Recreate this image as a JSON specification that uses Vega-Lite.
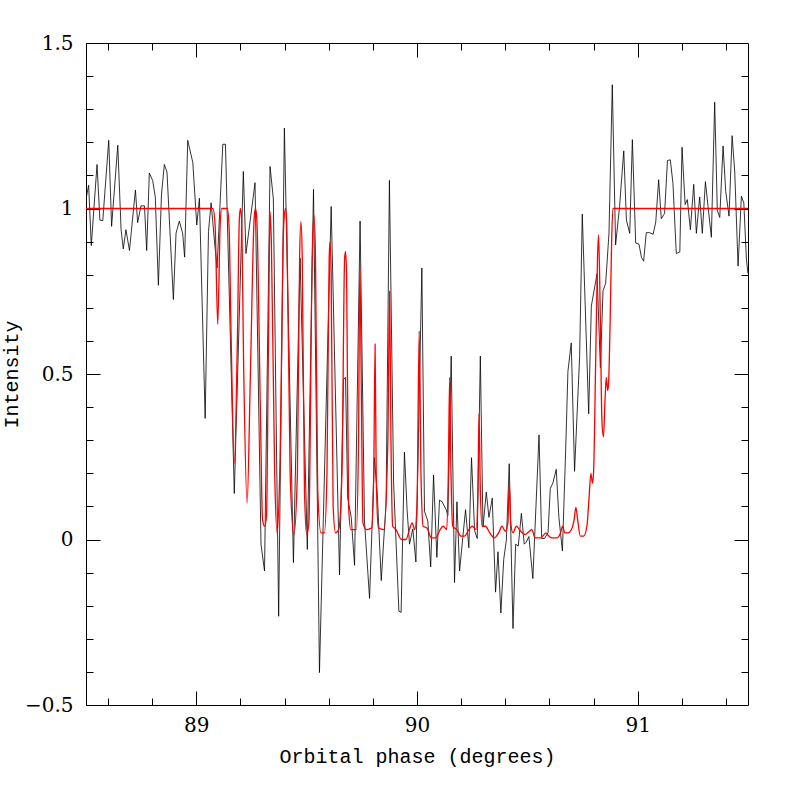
{
  "$schema": "https://vega.github.io/schema/vega-lite/v6.json",
  "width": 662,
  "height": 662,
  "autosize": "none",
  "padding": {"left": 86, "top": 43, "right": 41, "bottom": 84},
  "background": "white",
  "config": {
    "view": {"stroke": "black", "strokeWidth": 1},
    "axis": {
      "domain": false,
      "grid": false,
      "tickColor": "black",
      "tickWidth": 1,
      "labelFont": "DejaVu Serif",
      "labelFontSize": 20,
      "labelColor": "black",
      "titleFont": "Liberation Mono",
      "titleFontSize": 20,
      "titleFontWeight": "normal",
      "titleColor": "black"
    }
  },
  "datasets": {
    "obs": [
      {"phase": 88.500, "intensity": 1.029}, {"phase": 88.512, "intensity": 1.070}, {"phase": 88.524, "intensity": 0.888},
      {"phase": 88.550, "intensity": 1.133}, {"phase": 88.563, "intensity": 0.965}, {"phase": 88.576, "intensity": 0.963},
      {"phase": 88.603, "intensity": 1.206}, {"phase": 88.616, "intensity": 0.946}, {"phase": 88.644, "intensity": 1.191},
      {"phase": 88.659, "intensity": 0.936}, {"phase": 88.669, "intensity": 0.878}, {"phase": 88.681, "intensity": 0.936},
      {"phase": 88.697, "intensity": 0.873}, {"phase": 88.724, "intensity": 1.056}, {"phase": 88.734, "intensity": 0.957},
      {"phase": 88.749, "intensity": 1.008}, {"phase": 88.765, "intensity": 1.008}, {"phase": 88.775, "intensity": 0.873},
      {"phase": 88.787, "intensity": 1.107}, {"phase": 88.802, "intensity": 1.085}, {"phase": 88.814, "intensity": 1.035},
      {"phase": 88.828, "intensity": 0.768}, {"phase": 88.842, "intensity": 1.041}, {"phase": 88.855, "intensity": 1.133},
      {"phase": 88.867, "intensity": 1.110}, {"phase": 88.896, "intensity": 0.725}, {"phase": 88.908, "intensity": 0.925},
      {"phase": 88.923, "intensity": 0.962}, {"phase": 88.938, "intensity": 0.925}, {"phase": 88.947, "intensity": 0.853},
      {"phase": 88.961, "intensity": 1.206}, {"phase": 88.984, "intensity": 1.139}, {"phase": 89.002, "intensity": 0.950},
      {"phase": 89.014, "intensity": 1.031}, {"phase": 89.040, "intensity": 0.366}, {"phase": 89.055, "intensity": 0.930},
      {"phase": 89.067, "intensity": 1.017}, {"phase": 89.082, "intensity": 0.902}, {"phase": 89.094, "intensity": 0.820},
      {"phase": 89.120, "intensity": 1.194}, {"phase": 89.132, "intensity": 1.194}, {"phase": 89.172, "intensity": 0.139},
      {"phase": 89.213, "intensity": 1.112}, {"phase": 89.225, "intensity": 0.864}, {"phase": 89.266, "intensity": 1.078},
      {"phase": 89.293, "intensity": -0.014}, {"phase": 89.309, "intensity": -0.095}, {"phase": 89.334, "intensity": 1.127},
      {"phase": 89.349, "intensity": 1.029}, {"phase": 89.373, "intensity": -0.232}, {"phase": 89.399, "intensity": 1.243},
      {"phase": 89.440, "intensity": -0.070}, {"phase": 89.470, "intensity": 0.850}, {"phase": 89.503, "intensity": -0.030},
      {"phase": 89.531, "intensity": 1.058}, {"phase": 89.558, "intensity": -0.402}, {"phase": 89.611, "intensity": 1.006},
      {"phase": 89.649, "intensity": -0.107}, {"phase": 89.667, "intensity": 0.484}, {"phase": 89.676, "intensity": 0.490},
      {"phase": 89.686, "intensity": 0.125}, {"phase": 89.702, "intensity": 0.067}, {"phase": 89.717, "intensity": -0.078},
      {"phase": 89.742, "intensity": 0.962}, {"phase": 89.762, "intensity": 0.056}, {"phase": 89.785, "intensity": -0.178},
      {"phase": 89.807, "intensity": 0.247}, {"phase": 89.820, "intensity": 0.137}, {"phase": 89.838, "intensity": -0.124},
      {"phase": 89.860, "intensity": 0.114}, {"phase": 89.875, "intensity": 1.085}, {"phase": 89.894, "intensity": 0.171},
      {"phase": 89.918, "intensity": -0.217}, {"phase": 89.928, "intensity": -0.220}, {"phase": 89.943, "intensity": 0.264},
      {"phase": 89.955, "intensity": 0.090}, {"phase": 89.966, "intensity": -0.014}, {"phase": 89.981, "intensity": 0.032},
      {"phase": 89.995, "intensity": -0.068}, {"phase": 90.022, "intensity": 0.820}, {"phase": 90.034, "intensity": 0.085},
      {"phase": 90.049, "intensity": 0.056}, {"phase": 90.062, "intensity": -0.083}, {"phase": 90.075, "intensity": 0.195},
      {"phase": 90.090, "intensity": -0.054}, {"phase": 90.102, "intensity": 0.119}, {"phase": 90.114, "intensity": 0.114},
      {"phase": 90.132, "intensity": 0.090}, {"phase": 90.140, "intensity": 0.073}, {"phase": 90.155, "intensity": 0.554},
      {"phase": 90.170, "intensity": -0.130}, {"phase": 90.181, "intensity": 0.114}, {"phase": 90.193, "intensity": -0.095},
      {"phase": 90.208, "intensity": 0.009}, {"phase": 90.220, "intensity": 0.090}, {"phase": 90.235, "intensity": -0.025},
      {"phase": 90.247, "intensity": 0.247}, {"phase": 90.261, "intensity": 0.027}, {"phase": 90.273, "intensity": 0.003},
      {"phase": 90.287, "intensity": 0.554}, {"phase": 90.299, "intensity": 0.038}, {"phase": 90.314, "intensity": 0.143},
      {"phase": 90.326, "intensity": 0.067}, {"phase": 90.341, "intensity": 0.125}, {"phase": 90.356, "intensity": -0.159},
      {"phase": 90.367, "intensity": -0.037}, {"phase": 90.380, "intensity": -0.222}, {"phase": 90.393, "intensity": -0.060},
      {"phase": 90.405, "intensity": -0.002}, {"phase": 90.418, "intensity": 0.229}, {"phase": 90.435, "intensity": -0.269},
      {"phase": 90.447, "intensity": -0.014}, {"phase": 90.459, "intensity": -0.020}, {"phase": 90.473, "intensity": 0.079},
      {"phase": 90.486, "intensity": -0.014}, {"phase": 90.495, "intensity": -0.008}, {"phase": 90.507, "intensity": 0.009},
      {"phase": 90.525, "intensity": -0.118}, {"phase": 90.553, "intensity": 0.316}, {"phase": 90.565, "intensity": 0.003},
      {"phase": 90.578, "intensity": 0.003}, {"phase": 90.594, "intensity": 0.021}, {"phase": 90.604, "intensity": 0.154},
      {"phase": 90.616, "intensity": 0.171}, {"phase": 90.631, "intensity": 0.212}, {"phase": 90.643, "intensity": 0.067},
      {"phase": 90.659, "intensity": -0.035}, {"phase": 90.674, "intensity": 0.276}, {"phase": 90.684, "intensity": 0.508},
      {"phase": 90.699, "intensity": 0.594}, {"phase": 90.714, "intensity": 0.206}, {"phase": 90.737, "intensity": 0.553},
      {"phase": 90.749, "intensity": 0.983}, {"phase": 90.778, "intensity": 0.380}, {"phase": 90.790, "intensity": 0.705},
      {"phase": 90.816, "intensity": 0.803}, {"phase": 90.831, "intensity": 0.519}, {"phase": 90.843, "intensity": 0.751},
      {"phase": 90.855, "intensity": 0.774}, {"phase": 90.870, "intensity": 0.925}, {"phase": 90.885, "intensity": 1.374},
      {"phase": 90.900, "intensity": 0.890}, {"phase": 90.918, "intensity": 1.006}, {"phase": 90.937, "intensity": 1.174},
      {"phase": 90.949, "intensity": 0.965}, {"phase": 90.964, "intensity": 0.925}, {"phase": 90.976, "intensity": 1.208},
      {"phase": 90.991, "intensity": 0.896}, {"phase": 91.006, "intensity": 0.892}, {"phase": 91.017, "intensity": 0.853},
      {"phase": 91.027, "intensity": 0.841}, {"phase": 91.039, "intensity": 0.927}, {"phase": 91.054, "intensity": 0.927},
      {"phase": 91.070, "intensity": 0.922}, {"phase": 91.082, "intensity": 0.959}, {"phase": 91.095, "intensity": 1.087},
      {"phase": 91.107, "intensity": 0.969}, {"phase": 91.122, "intensity": 0.985}, {"phase": 91.135, "intensity": 1.145},
      {"phase": 91.148, "intensity": 1.147}, {"phase": 91.160, "intensity": 1.075}, {"phase": 91.175, "intensity": 0.864},
      {"phase": 91.191, "intensity": 0.869}, {"phase": 91.201, "intensity": 1.185}, {"phase": 91.215, "intensity": 1.012},
      {"phase": 91.225, "intensity": 1.027}, {"phase": 91.239, "intensity": 0.936}, {"phase": 91.254, "intensity": 1.073},
      {"phase": 91.266, "intensity": 0.925}, {"phase": 91.281, "intensity": 1.035}, {"phase": 91.293, "intensity": 0.925},
      {"phase": 91.307, "intensity": 1.081}, {"phase": 91.319, "intensity": 1.006}, {"phase": 91.334, "intensity": 0.913},
      {"phase": 91.349, "intensity": 1.321}, {"phase": 91.361, "intensity": 0.994}, {"phase": 91.372, "intensity": 0.973},
      {"phase": 91.387, "intensity": 1.189}, {"phase": 91.399, "intensity": 1.052}, {"phase": 91.414, "intensity": 0.977},
      {"phase": 91.428, "intensity": 1.220}, {"phase": 91.440, "intensity": 1.110}, {"phase": 91.455, "intensity": 0.826},
      {"phase": 91.470, "intensity": 1.037}, {"phase": 91.481, "intensity": 1.017}, {"phase": 91.493, "intensity": 0.844},
      {"phase": 91.500, "intensity": 0.803}
    ],
    "model": [
      {"phase": 88.500, "intensity": 1.0}, {"phase": 89.075, "intensity": 1.0}, {"phase": 89.085, "intensity": 0.95},
      {"phase": 89.097, "intensity": 0.65}, {"phase": 89.108, "intensity": 0.95}, {"phase": 89.115, "intensity": 1.0},
      {"phase": 89.140, "intensity": 1.0}, {"phase": 89.148, "intensity": 0.95}, {"phase": 89.158, "intensity": 0.6},
      {"phase": 89.172, "intensity": 0.23}, {"phase": 89.186, "intensity": 0.6}, {"phase": 89.195, "intensity": 0.97},
      {"phase": 89.200, "intensity": 1.0}, {"phase": 89.205, "intensity": 0.97}, {"phase": 89.215, "intensity": 0.5},
      {"phase": 89.230, "intensity": 0.11}, {"phase": 89.245, "intensity": 0.5}, {"phase": 89.262, "intensity": 0.97},
      {"phase": 89.268, "intensity": 1.0}, {"phase": 89.274, "intensity": 0.97}, {"phase": 89.290, "intensity": 0.4},
      {"phase": 89.300, "intensity": 0.06}, {"phase": 89.309, "intensity": 0.04}, {"phase": 89.318, "intensity": 0.07},
      {"phase": 89.327, "intensity": 0.6}, {"phase": 89.334, "intensity": 0.99}, {"phase": 89.340, "intensity": 0.9},
      {"phase": 89.355, "intensity": 0.2}, {"phase": 89.366, "intensity": 0.02}, {"phase": 89.378, "intensity": 0.2},
      {"phase": 89.396, "intensity": 0.95}, {"phase": 89.404, "intensity": 1.0}, {"phase": 89.410, "intensity": 0.95},
      {"phase": 89.425, "intensity": 0.2}, {"phase": 89.442, "intensity": 0.015}, {"phase": 89.458, "intensity": 0.2},
      {"phase": 89.468, "intensity": 0.85}, {"phase": 89.474, "intensity": 0.96}, {"phase": 89.480, "intensity": 0.85},
      {"phase": 89.490, "intensity": 0.15}, {"phase": 89.500, "intensity": 0.015}, {"phase": 89.510, "intensity": 0.05},
      {"phase": 89.525, "intensity": 0.85}, {"phase": 89.533, "intensity": 0.98}, {"phase": 89.540, "intensity": 0.85},
      {"phase": 89.550, "intensity": 0.15}, {"phase": 89.565, "intensity": 0.02}, {"phase": 89.580, "intensity": 0.02},
      {"phase": 89.592, "intensity": 0.2}, {"phase": 89.602, "intensity": 0.85}, {"phase": 89.606, "intensity": 0.90},
      {"phase": 89.611, "intensity": 0.8}, {"phase": 89.620, "intensity": 0.1}, {"phase": 89.631, "intensity": 0.02},
      {"phase": 89.645, "intensity": 0.03}, {"phase": 89.660, "intensity": 0.2}, {"phase": 89.672, "intensity": 0.85},
      {"phase": 89.676, "intensity": 0.87}, {"phase": 89.681, "intensity": 0.8}, {"phase": 89.690, "intensity": 0.1},
      {"phase": 89.700, "intensity": 0.03}, {"phase": 89.725, "intensity": 0.03}, {"phase": 89.735, "intensity": 0.3},
      {"phase": 89.741, "intensity": 0.83}, {"phase": 89.747, "intensity": 0.5}, {"phase": 89.755, "intensity": 0.05},
      {"phase": 89.770, "intensity": 0.03}, {"phase": 89.795, "intensity": 0.035}, {"phase": 89.804, "intensity": 0.2},
      {"phase": 89.810, "intensity": 0.59}, {"phase": 89.815, "intensity": 0.2}, {"phase": 89.825, "intensity": 0.035},
      {"phase": 89.850, "intensity": 0.03}, {"phase": 89.868, "intensity": 0.3}, {"phase": 89.876, "intensity": 0.75},
      {"phase": 89.882, "intensity": 0.3}, {"phase": 89.890, "intensity": 0.04}, {"phase": 89.905, "intensity": 0.03},
      {"phase": 89.930, "intensity": 0.0}, {"phase": 89.950, "intensity": 0.0}, {"phase": 89.968, "intensity": 0.035},
      {"phase": 89.978, "intensity": 0.05}, {"phase": 89.990, "intensity": 0.03}, {"phase": 90.000, "intensity": 0.1},
      {"phase": 90.010, "intensity": 0.63}, {"phase": 90.018, "intensity": 0.2}, {"phase": 90.028, "intensity": 0.04},
      {"phase": 90.045, "intensity": 0.035}, {"phase": 90.065, "intensity": 0.005}, {"phase": 90.085, "intensity": 0.005},
      {"phase": 90.105, "intensity": 0.03}, {"phase": 90.118, "intensity": 0.04}, {"phase": 90.135, "intensity": 0.03},
      {"phase": 90.142, "intensity": 0.2}, {"phase": 90.148, "intensity": 0.49}, {"phase": 90.154, "intensity": 0.2},
      {"phase": 90.162, "intensity": 0.04}, {"phase": 90.180, "intensity": 0.03}, {"phase": 90.200, "intensity": 0.01},
      {"phase": 90.215, "intensity": 0.01}, {"phase": 90.235, "intensity": 0.03}, {"phase": 90.250, "intensity": 0.04},
      {"phase": 90.268, "intensity": 0.03}, {"phase": 90.276, "intensity": 0.15}, {"phase": 90.281, "intensity": 0.38},
      {"phase": 90.287, "intensity": 0.15}, {"phase": 90.295, "intensity": 0.04}, {"phase": 90.310, "intensity": 0.04},
      {"phase": 90.330, "intensity": 0.02}, {"phase": 90.350, "intensity": 0.005}, {"phase": 90.370, "intensity": 0.02},
      {"phase": 90.385, "intensity": 0.04}, {"phase": 90.400, "intensity": 0.025}, {"phase": 90.412, "intensity": 0.05},
      {"phase": 90.418, "intensity": 0.17}, {"phase": 90.425, "intensity": 0.05}, {"phase": 90.435, "intensity": 0.02},
      {"phase": 90.450, "intensity": 0.04}, {"phase": 90.470, "intensity": 0.025}, {"phase": 90.490, "intensity": 0.015},
      {"phase": 90.510, "intensity": 0.025}, {"phase": 90.520, "intensity": 0.03}, {"phase": 90.535, "intensity": 0.005},
      {"phase": 90.560, "intensity": 0.005}, {"phase": 90.585, "intensity": 0.02}, {"phase": 90.595, "intensity": 0.012},
      {"phase": 90.610, "intensity": 0.005}, {"phase": 90.635, "intensity": 0.005}, {"phase": 90.650, "intensity": 0.02},
      {"phase": 90.660, "intensity": 0.04}, {"phase": 90.670, "intensity": 0.02}, {"phase": 90.685, "intensity": 0.02},
      {"phase": 90.700, "intensity": 0.03}, {"phase": 90.712, "intensity": 0.06}, {"phase": 90.720, "intensity": 0.097},
      {"phase": 90.728, "intensity": 0.06}, {"phase": 90.740, "intensity": 0.01}, {"phase": 90.755, "intensity": 0.01},
      {"phase": 90.770, "intensity": 0.04}, {"phase": 90.780, "intensity": 0.13}, {"phase": 90.788, "intensity": 0.2},
      {"phase": 90.795, "intensity": 0.17}, {"phase": 90.800, "intensity": 0.2}, {"phase": 90.810, "intensity": 0.55},
      {"phase": 90.818, "intensity": 0.85}, {"phase": 90.823, "intensity": 0.92}, {"phase": 90.830, "intensity": 0.7},
      {"phase": 90.838, "intensity": 0.36}, {"phase": 90.845, "intensity": 0.31}, {"phase": 90.852, "intensity": 0.42},
      {"phase": 90.858, "intensity": 0.49}, {"phase": 90.864, "intensity": 0.45}, {"phase": 90.868, "intensity": 0.47},
      {"phase": 90.875, "intensity": 0.65}, {"phase": 90.882, "intensity": 0.9}, {"phase": 90.888, "intensity": 1.0},
      {"phase": 91.500, "intensity": 1.0}
    ]
  },
  "layer": [
    {
      "data": {"name": "obs"},
      "mark": {"type": "line", "color": "black", "strokeWidth": 0.8, "clip": true},
      "encoding": {
        "x": {
          "field": "phase", "type": "quantitative",
          "scale": {"domain": [88.5, 91.5], "nice": false, "zero": false},
          "axis": {
            "orient": "bottom",
            "title": "Orbital phase (degrees)",
            "values": [88.6, 88.8, 89, 89.2, 89.4, 89.6, 89.8, 90, 90.2, 90.4, 90.6, 90.8, 91, 91.2, 91.4],
            "tickSize": {"condition": {"test": "datum.value % 1 === 0", "value": -14}, "value": -7},
            "labelExpr": "datum.value % 1 === 0 ? format(datum.value, '~g') : ''",
            "labelPadding": 24,
            "labelFlush": false,
            "titlePadding": 11
          }
        },
        "y": {
          "field": "intensity", "type": "quantitative",
          "scale": {"domain": [-0.5, 1.5], "nice": false, "zero": false},
          "axis": {
            "orient": "left",
            "title": "Intensity",
            "values": [-0.5, -0.4, -0.3, -0.2, -0.1, 0, 0.1, 0.2, 0.3, 0.4, 0.5, 0.6, 0.7, 0.8, 0.9, 1, 1.1, 1.2, 1.3, 1.4, 1.5],
            "tickSize": {"condition": {"test": "(datum.value * 2) % 1 === 0", "value": -14}, "value": -7},
            "labelExpr": "(datum.value * 2) % 1 === 0 ? format(datum.value, '~g') : ''",
            "labelPadding": 27,
            "labelFlush": false,
            "titlePadding": 3
          }
        }
      }
    },
    {
      "data": {"name": "model"},
      "mark": {"type": "line", "color": "#ff0000", "strokeWidth": 1.3, "interpolate": "monotone", "clip": true},
      "encoding": {
        "x": {
          "field": "phase", "type": "quantitative",
          "axis": {
            "orient": "top",
            "title": null,
            "labels": false,
            "values": [88.6, 88.8, 89, 89.2, 89.4, 89.6, 89.8, 90, 90.2, 90.4, 90.6, 90.8, 91, 91.2, 91.4],
            "tickSize": {"condition": {"test": "datum.value % 1 === 0", "value": -14}, "value": -7}
          }
        },
        "y": {
          "field": "intensity", "type": "quantitative",
          "axis": {
            "orient": "right",
            "title": null,
            "labels": false,
            "values": [-0.4, -0.3, -0.2, -0.1, 0, 0.1, 0.2, 0.3, 0.4, 0.5, 0.6, 0.7, 0.8, 0.9, 1, 1.1, 1.2, 1.3, 1.4],
            "tickSize": {"condition": {"test": "(datum.value * 2) % 1 === 0", "value": -14}, "value": -7}
          }
        }
      }
    }
  ],
  "resolve": {"axis": {"x": "independent", "y": "independent"}}
}
